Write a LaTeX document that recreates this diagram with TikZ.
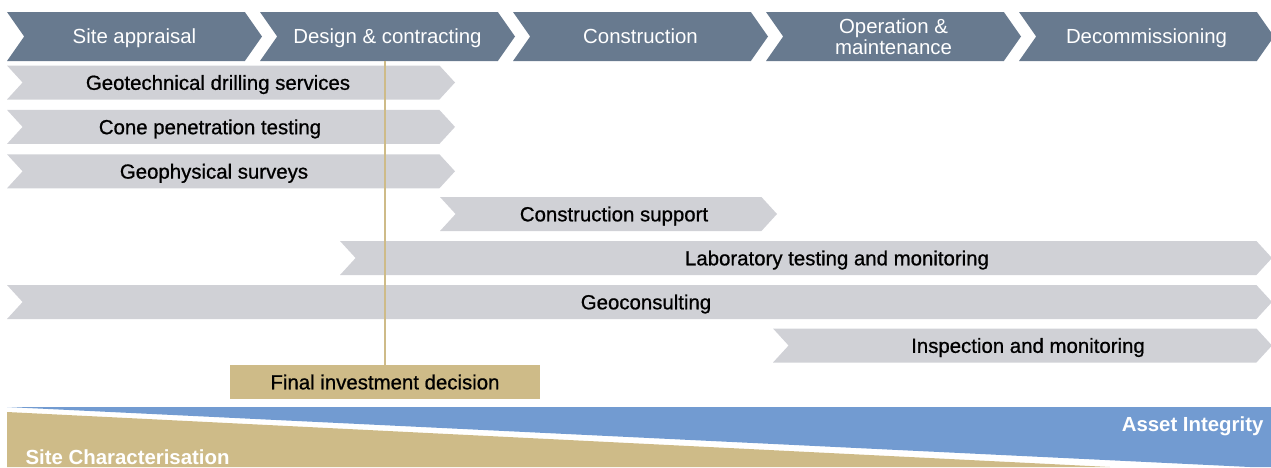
\documentclass[tikz,border=0pt]{standalone}
\usepackage{fontspec}
\setmainfont{Liberation Sans}
\newfontfamily\medfont[FakeBold=0.8]{Liberation Sans}
\usetikzlibrary{shapes.symbols,positioning}
\definecolor{phasecol}{RGB}{104,122,143}
\definecolor{servicecol}{RGB}{208,209,214}
\definecolor{sandcol}{RGB}{206,187,136}
\definecolor{assetcol}{RGB}{114,155,209}

\begin{document}
\begin{tikzpicture}[x=1pt, y=-1pt, font=\fontsize{20.4}{21}\selectfont,
  phase/.style = {signal, signal from=west, signal to=east, signal pointer angle=110, fill=phasecol, text=white, minimum height=49pt, minimum width=255pt, inner sep=0pt, text height=14.6pt, text depth=0pt},
  service/.style = {signal, signal from=west, signal to=east, signal pointer angle=95, fill=servicecol, minimum height=34pt, inner sep=0pt, text height=14.6pt, text depth=0pt, font=\fontsize{20.4}{21}\medfont},
  milestone/.style = {fill=sandcol, minimum width=310pt, minimum height=34pt, inner sep=0pt, text height=14.6pt, text depth=0pt, font=\fontsize{20.4}{21}\medfont},
  band/.style = {text=white, font=\fontsize{20.4}{21}\selectfont\bfseries}]
\useasboundingbox (0,0) rectangle (1271,467);

\fill[assetcol] (7,407) -- (1271,407) -- (1271,467) -- (1250,467) -- cycle;
\fill[sandcol] (7,412) -- (1110,467) -- (7,467) -- cycle;
\node[band, anchor=base east] (integrity) at (1267,431) {Asset Integrity};
\node[band, anchor=base west] (charac) at (22,464) {Site Characterisation};

\node[phase] (appraisal) at (134.5,36.5) {Site appraisal};
\node[phase] (design) at (387.5,36.5) {Design \& contracting};
\node[phase] (construction) at (640.5,36.5) {Construction};
\node[phase, align=center, text height={}, text depth={}] (operation) at (893.5,36.5) {Operation \&\\maintenance};
\node[phase] (decom) at (1146.5,36.5) {Decommissioning};

\node[service, minimum width=448pt] (drilling) at (231,82.5) {Geotechnical drilling services\hspace*{26pt}};
\node[service, minimum width=448pt] (cpt) [below=10pt of drilling] {Cone penetration testing\hspace*{42pt}};
\node[service, minimum width=448pt] (survey) [below=10pt of cpt] {Geophysical surveys\hspace*{34pt}};
\node[service, minimum width=337pt] (support) at (608.5,214) {\hspace*{11pt}Construction support};
\node[service, minimum width=932pt] (lab) at (806,258) {\hspace*{62pt}Laboratory testing and monitoring};
\node[service, minimum width=1265pt] (geocon) at (639.5,302) {\hspace*{13pt}Geoconsulting};
\node[service, minimum width=499pt] (inspect) at (1022.5,345.5) {\hspace*{11pt}Inspection and monitoring};

\node[milestone] (fid) at (385,382) {Final investment decision};
\draw[sandcol, line width=2pt] (fid.north) -- (fid.north |- design.south);
\end{tikzpicture}
\end{document}
